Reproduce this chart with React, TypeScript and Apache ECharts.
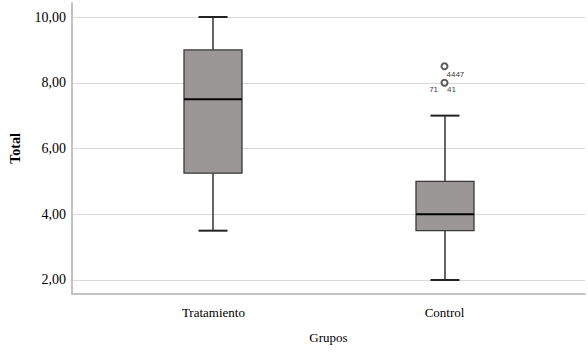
import React, { useEffect, useRef } from "react";
import * as echarts from "echarts";

const groups = ["Tratamiento", "Control"];
const mins = [3.5, 2.0];
const q1s = [5.25, 3.5];
const medians = [7.5, 4.0];
const q3s = [9.0, 5.0];
const maxs = [10.0, 7.0];
const outlierGroup = [1, 1];
const outlierValues = [8.5, 8.0];
const outlierLabels = ["4447", "71    41"];
const yTicks = [2, 4, 6, 8, 10];

export default function App() {
  const ref = useRef<HTMLDivElement>(null);
  useEffect(() => {
    if (!ref.current) return;
    const chart = echarts.init(ref.current, null, { renderer: "svg" });
    const boxData = groups.map((_, i) => [i + 1, mins[i], q1s[i], medians[i], q3s[i], maxs[i]]);
    const outData = outlierValues.map((v, i) => ({
      value: [outlierGroup[i] + 1, v],
      label: i === 0
        ? { position: [6, 12], align: "left", verticalAlign: "middle", color: "#000" }
        : { position: [2, 11], align: "center", verticalAlign: "middle", color: "#000" },
    }));
    const serif = "'Liberation Serif', 'Times New Roman', serif";
    chart.setOption({
      animation: false,
      backgroundColor: "#ffffff",
      grid: { left: 70, right: 3, top: 3, bottom: 59 },
      xAxis: {
        type: "value",
        min: 0.388,
        max: 2.608,
        axisLine: { show: true, lineStyle: { color: "#c2c2c2", width: 2 } },
        axisTick: { show: false, customValues: [1, 2] },
        splitLine: { show: false },
        axisLabel: {
          customValues: [1, 2],
          formatter: (v: number) => groups[Math.round(v) - 1] ?? "",
          fontFamily: serif,
          fontSize: 13,
          color: "#000",
          margin: 12,
        },
        name: "Grupos",
        nameLocation: "middle",
        nameGap: 37,
        nameTextStyle: { fontFamily: serif, fontSize: 13, color: "#000" },
      },
      yAxis: {
        type: "value",
        min: 1.574,
        max: 10.426,
        axisLine: { show: true, lineStyle: { color: "#c2c2c2", width: 2 } },
        axisTick: { show: false, customValues: yTicks },
        splitLine: { show: true, lineStyle: { color: "#d9d9d9", width: 1 } },
        axisLabel: {
          customValues: yTicks,
          formatter: (v: number) => v.toFixed(2).replace(".", ","),
          fontFamily: serif,
          fontSize: 14,
          color: "#000",
          margin: 6,
        },
        name: "Total",
        nameLocation: "middle",
        nameRotate: 90,
        nameGap: 50,
        nameTextStyle: { fontFamily: serif, fontSize: 14, fontWeight: "bold", color: "#000" },
      },
      series: [
        {
          type: "custom",
          z: 2,
          data: boxData,
          encode: { x: 0, y: [1, 2, 3, 4, 5] },
          renderItem: (params: any, api: any) => {
            const x = api.value(0);
            const pMin = api.coord([x, api.value(1)]);
            const pQ1 = api.coord([x, api.value(2)]);
            const pMed = api.coord([x, api.value(3)]);
            const pQ3 = api.coord([x, api.value(4)]);
            const pMax = api.coord([x, api.value(5)]);
            const bw = 58;
            const cw = 29;
            const cx = Math.round(pMed[0]);
            const ws = { stroke: "#333333", lineWidth: 1.5 };
            return {
              type: "group",
              children: [
                { type: "line", shape: { x1: cx, y1: pMax[1], x2: cx, y2: pQ3[1] }, style: ws },
                { type: "line", shape: { x1: cx, y1: pQ1[1], x2: cx, y2: pMin[1] }, style: ws },
                { type: "line", shape: { x1: cx - cw / 2, y1: pMax[1], x2: cx + cw / 2, y2: pMax[1] }, style: { stroke: "#222", lineWidth: 2 } },
                { type: "line", shape: { x1: cx - cw / 2, y1: pMin[1], x2: cx + cw / 2, y2: pMin[1] }, style: { stroke: "#222", lineWidth: 2 } },
                {
                  type: "rect",
                  shape: { x: cx - bw / 2, y: pQ3[1], width: bw, height: pQ1[1] - pQ3[1] },
                  style: { fill: "#9b9797", stroke: "#3a3a3a", lineWidth: 1.3 },
                },
                { type: "line", shape: { x1: cx - bw / 2, y1: pMed[1], x2: cx + bw / 2, y2: pMed[1] }, style: { stroke: "#000", lineWidth: 2 } },
              ],
            };
          },
        },
        {
          type: "scatter",
          z: 3,
          symbol: "emptyCircle",
          symbolSize: 6,
          itemStyle: { color: "#333", borderColor: "#333", borderWidth: 1 },
          data: outData,
          label: {
            show: true,
            fontFamily: "'Liberation Sans', Arial, sans-serif",
            fontSize: 8,
            color: "#000",
            formatter: (p: any) => outlierLabels[p.dataIndex],
          },
        },
      ],
    });
    return () => chart.dispose();
  }, []);
  return <div ref={ref} style={{ width: 588, height: 353, position: "absolute", left: 0, top: 0 }} />;
}
